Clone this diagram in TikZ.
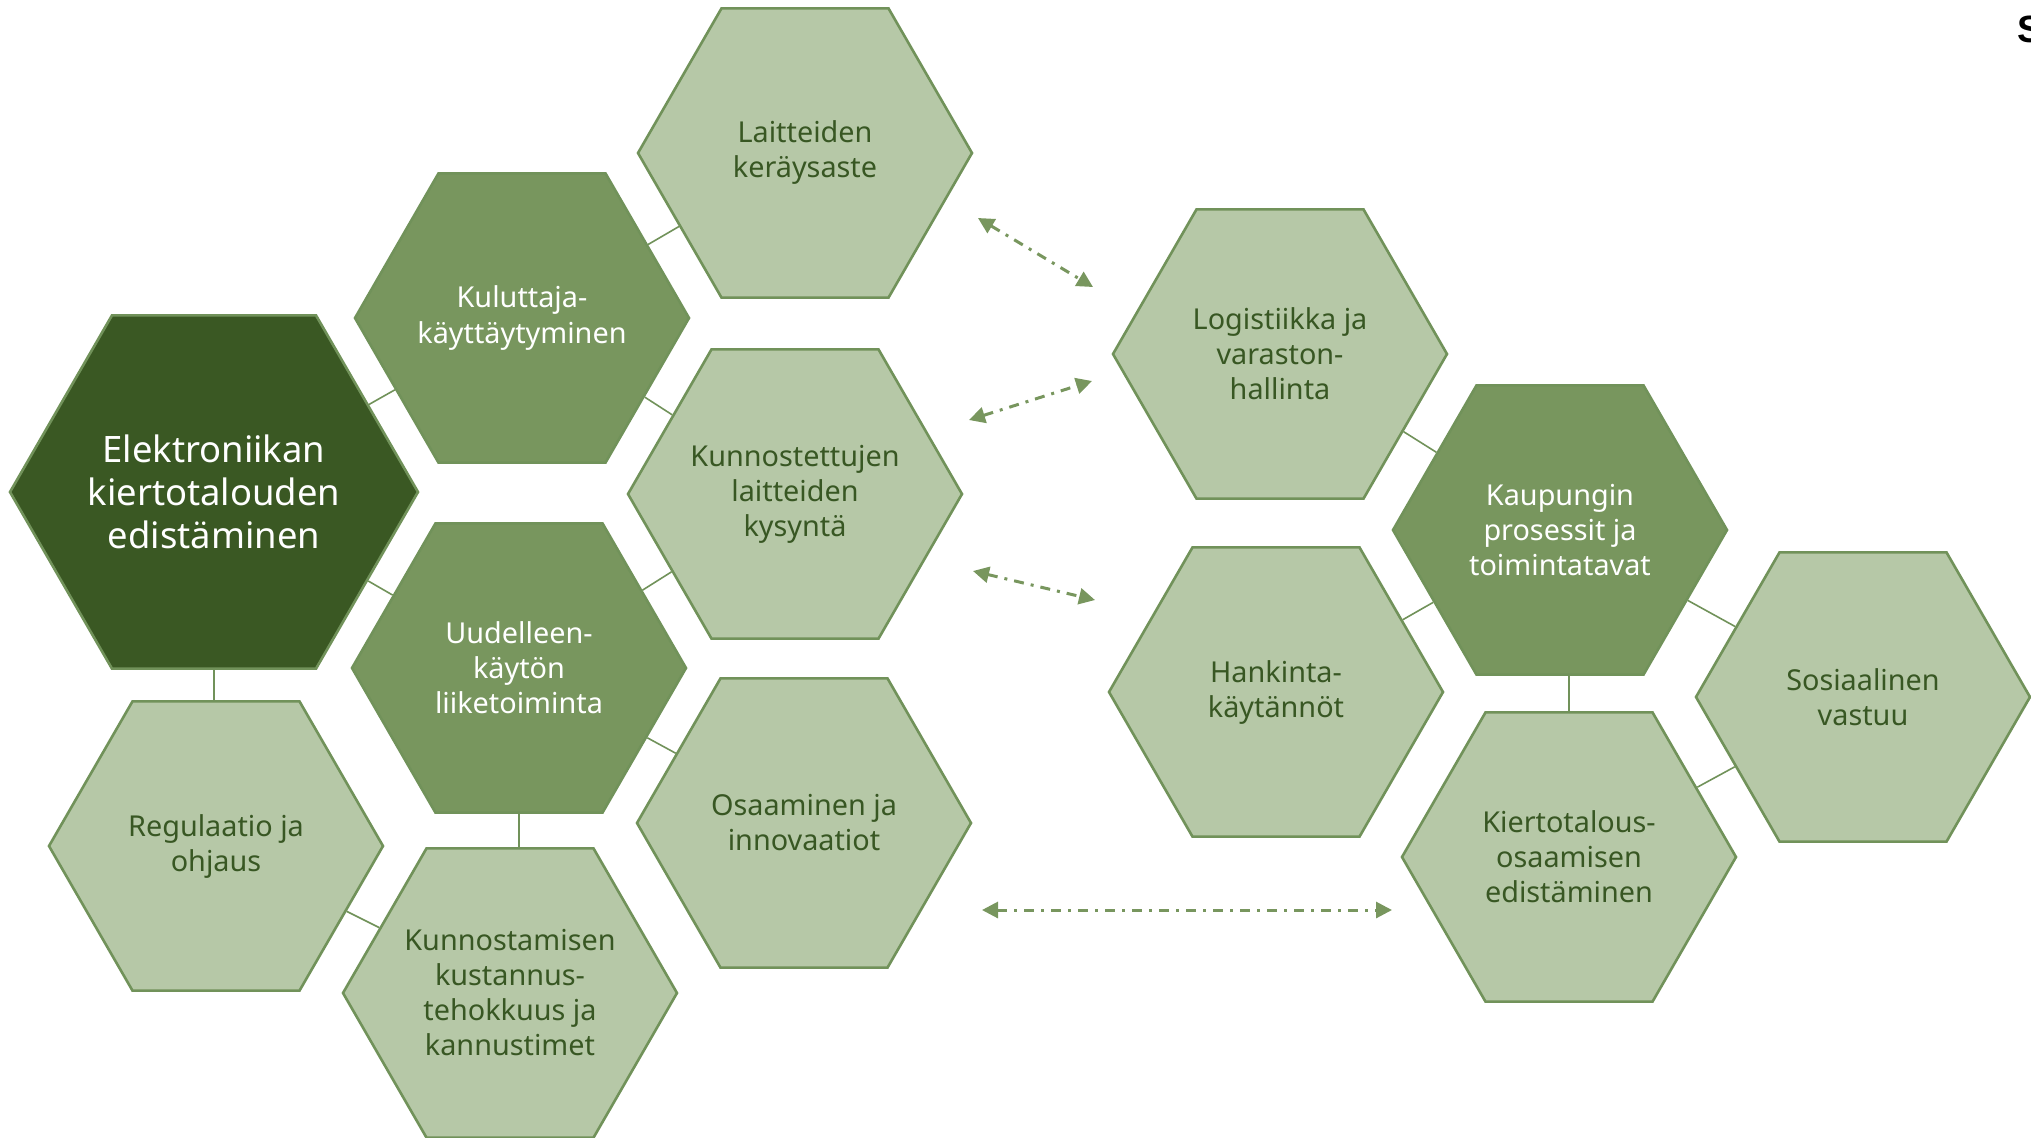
\documentclass[tikz,border=0pt]{standalone}
\usepackage{fontspec}
\setmainfont{Noto Sans}
\newfontfamily\markfont{Liberation Sans}
\usepackage{tikz}
\usetikzlibrary{shapes,arrows,arrows.meta,positioning}
\definecolor{darkgreen}{HTML}{3A5823}
\definecolor{midgreen}{HTML}{78965E}
\definecolor{palegreen}{HTML}{B6C8A7}
\definecolor{rimgreen}{HTML}{71925A}
\definecolor{inkgreen}{HTML}{385723}
\tikzstyle{cell} = [regular polygon, regular polygon sides=6, draw=rimgreen, line width=1.3pt, inner sep=-20pt, minimum size=167pt, align=center, font=\fontsize{14.4}{17.5}\selectfont]
\tikzstyle{palecell} = [cell, fill=palegreen, text=inkgreen]
\tikzstyle{midcell} = [cell, fill=midgreen, text=white]
\tikzstyle{maincell} = [cell, fill=darkgreen, text=white, minimum size=204pt, font=\fontsize{18.2}{21.5}\selectfont]
\tikzstyle{link} = [draw=rimgreen, line width=0.8pt]
\tikzstyle{flow} = [draw=midgreen, line width=1.5pt, dash pattern=on 5pt off 3.5pt on 1.5pt off 3.5pt, {Triangle[length=8pt,width=8pt]}-{Triangle[length=8pt,width=8pt]}]

\begin{document}
\begin{tikzpicture}[x=0.5pt, y=-0.5pt]
	\useasboundingbox (0,0) rectangle (2031,1137);
	% vasen kennosto
	\node[maincell] (main) at (214,492) {Elektroniikan\\kiertotalouden\\edistäminen};
	\node[midcell] (kul) at (522,318) {Kuluttaja-\\käyttäytyminen};
	\node[midcell] (uud) at (519,668) {Uudelleen-\\käytön\\liiketoiminta};
	\node[palecell] (lai) at (805,153) {Laitteiden\\keräysaste};
	\node[palecell] (kys) at (795,494) {Kunnostettujen\\laitteiden\\kysyntä};
	\node[palecell] (osa) at (804,823) {Osaaminen ja\\innovaatiot};
	\node[palecell] (reg) at (216,846) {Regulaatio ja\\ohjaus};
	\node[palecell] (kus) at (510,993) {Kunnostamisen\\kustannus-\\tehokkuus ja\\kannustimet};
	% oikea kennosto
	\node[palecell] (log) at (1280,354) {Logistiikka ja\\varaston-\\hallinta};
	\node[midcell] (kau) at (1560,530) {Kaupungin\\prosessit ja\\toimintatavat};
	\node[palecell] (han) at (1276,692) {Hankinta-\\käytännöt};
	\node[palecell] (sos) at (1863,697) {Sosiaalinen\\vastuu};
	\node[palecell] (kio) at (1569,857) {Kiertotalous-\\osaamisen\\edistäminen};
	% yhteydet
	\draw[link] (main) -- (kul);
	\draw[link] (main) -- (uud);
	\draw[link] (main.south) -- (main.south |- reg.north);
	\draw[link] (kul) -- (lai);
	\draw[link] (kul) -- (kys);
	\draw[link] (uud) -- (kys);
	\draw[link] (uud) -- (osa);
	\draw[link] (uud.south) -- (uud.south |- kus.north);
	\draw[link] (reg) -- (kus);
	\draw[link] (log) -- (kau);
	\draw[link] (han) -- (kau);
	\draw[link] (kio.north) -- (kio.north |- kau.south);
	\draw[link] (kau) -- (sos);
	\draw[link] (sos) -- (kio);
	% nuolet
	\coordinate (a1) at (978,218);
	\coordinate (b1) at (1093,287);
	\coordinate (a2) at (969,420);
	\coordinate (b2) at (1092,381);
	\coordinate (a3) at (973,571);
	\coordinate (b3) at (1095,600);
	\coordinate (a4) at (982,910);
	\coordinate (b4) at (1392,910);
	\draw[flow] (a1) -- (b1);
	\draw[flow] (a2) -- (b2);
	\draw[flow] (a3) -- (b3);
	\draw[flow] (a4) -- (b4);
	\node[anchor=base west, inner sep=0pt, font=\markfont\bfseries\fontsize{19}{22}\selectfont] (ess) at (2017,42) {S};
\end{tikzpicture}
\end{document}
